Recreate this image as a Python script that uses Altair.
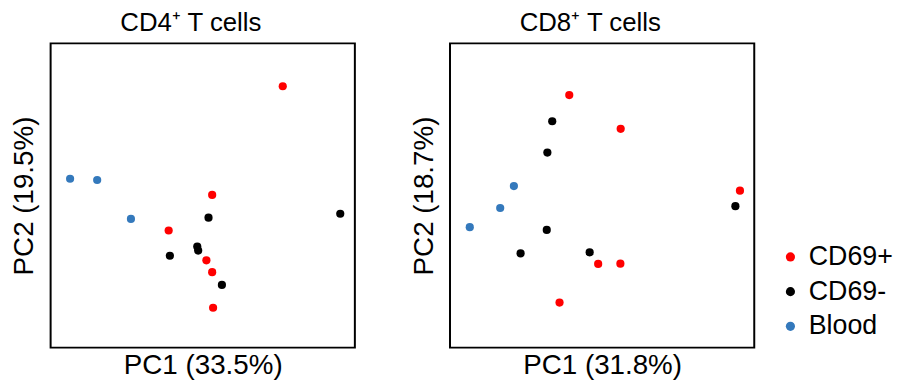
import altair as alt
import pandas as pd

groups_order = ["CD69+", "CD69-", "Blood"]
group_colors = ["#FF0000", "#000000", "#3479BC"]

# CD4+ T cells (PC scores, relative units 0-100)
cd4_group = ["CD69+"] * 6 + ["CD69-"] * 6 + ["Blood"] * 3
cd4_pc1 = [76.3, 53.1, 38.8, 51.2, 53.1, 53.4,
           95.2, 51.9, 48.2, 48.5, 39.2, 56.3,
           6.4, 15.3, 26.4]
cd4_pc2 = [85.9, 50.2, 38.5, 28.7, 24.8, 13.1,
           44.0, 42.7, 33.2, 31.9, 30.2, 20.6,
           55.5, 55.1, 42.3]

# CD8+ T cells
cd8_group = ["CD69+"] * 6 + ["CD69-"] * 6 + ["Blood"] * 3
cd8_pc1 = [39.2, 56.1, 95.3, 48.7, 56.0, 36.0,
           33.6, 32.0, 93.8, 31.8, 23.2, 45.9,
           21.0, 16.5, 6.5]
cd8_pc2 = [83.0, 71.9, 51.6, 27.5, 27.6, 14.8,
           74.4, 64.1, 46.5, 38.7, 31.0, 31.3,
           53.1, 45.9, 39.6]

FONT = "Liberation Sans"

color = alt.Color(
    "group:N",
    scale=alt.Scale(domain=groups_order, range=group_colors),
    legend=alt.Legend(
        title=None, orient="none", legendX=733, legendY=202,
        labelFontSize=27, labelFont=FONT, labelColor="black", symbolType="circle",
        symbolSize=85, rowPadding=7, labelOffset=5,
        symbolStrokeWidth=0,
    ),
)


def panel(xs, ys, gs, title, xt, yt):
    df = pd.DataFrame({"pc1": xs, "pc2": ys, "group": gs})
    return alt.Chart(df).mark_circle(size=68, opacity=1).encode(
        x=alt.X("pc1:Q", scale=alt.Scale(domain=[0, 100], nice=False, zero=False),
                axis=alt.Axis(title=xt, ticks=False, labels=False, domain=False, grid=False,
                              titleFontSize=28, titlePadding=4)),
        y=alt.Y("pc2:Q", scale=alt.Scale(domain=[0, 100], nice=False, zero=False),
                axis=alt.Axis(title=yt, ticks=False, labels=False, domain=False, grid=False,
                              titleFontSize=28, titlePadding=12)),
        color=color,
    ).properties(
        width=307, height=307,
        title=alt.TitleParams(title, fontSize=26, font=FONT, fontWeight="normal",
                              color="black", dx=-12, offset=7),
    )


p1 = panel(cd4_pc1, cd4_pc2, cd4_group, "CD4⁺ T cells", "PC1 (33.5%)", "PC2 (19.5%)")
p2 = panel(cd8_pc1, cd8_pc2, cd8_group, "CD8⁺ T cells", "PC1 (31.8%)", "PC2 (18.7%)")

chart = alt.hconcat(p1, p2, spacing=54).properties(
    padding={"left": 2, "top": 0, "right": 0, "bottom": 0}
).configure_view(
    stroke="black", strokeWidth=2
).configure_axis(
    titleFont=FONT, titleFontWeight="normal", titleColor="black",
)

chart.save("out.html", embed_options={"renderer": "svg", "actions": False})
